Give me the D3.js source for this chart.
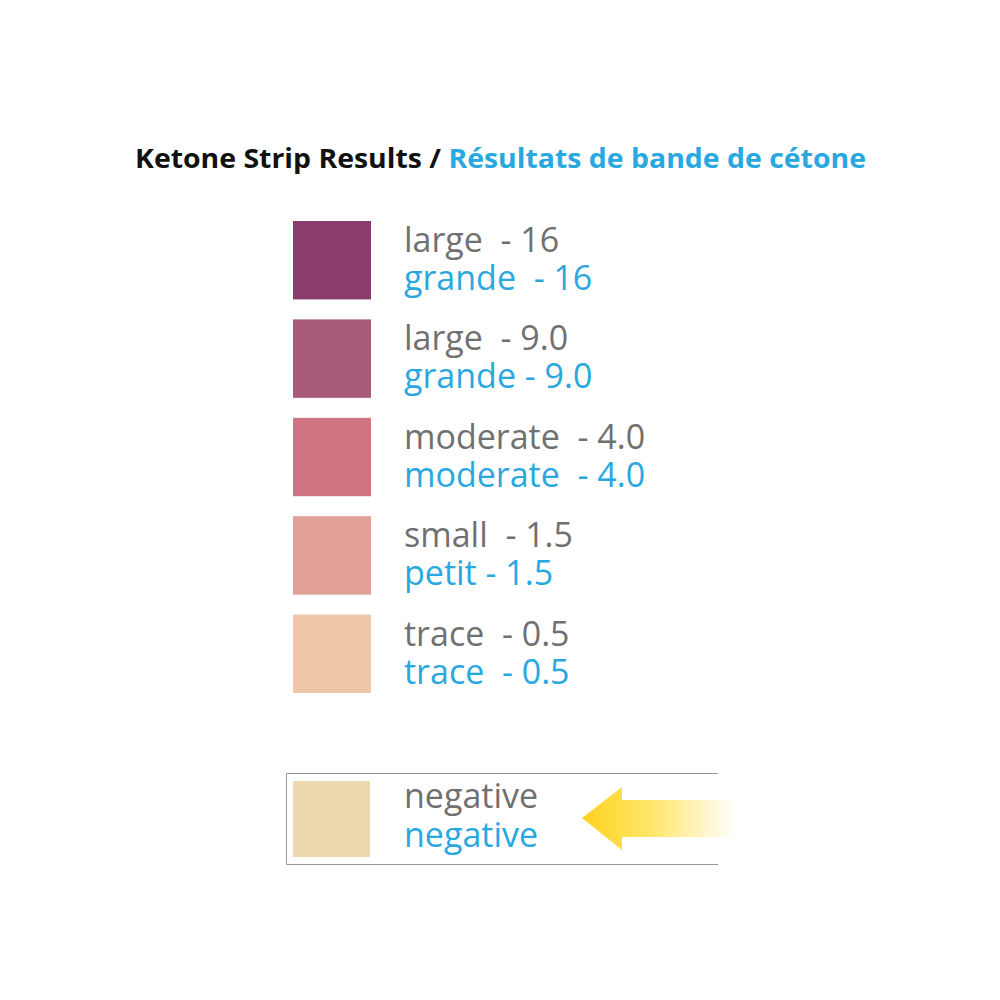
<!DOCTYPE html><html><head><script src="https://cdn.jsdelivr.net/npm/d3@7"></script>
<style>body{margin:0;background:#fff} text{white-space:pre}</style></head><body><svg id="c" width="1000" height="1000"></svg>
<script>
const levels = ["large  - 16","large  - 9.0","moderate  - 4.0","small  - 1.5","trace  - 0.5"];
const levelsFr = ["grande  - 16","grande - 9.0","moderate  - 4.0","petit - 1.5","trace  - 0.5"];
const colors = ["#8A3C6E","#A85A7A","#D07383","#E1A097","#EEC5A7"];
const negColor = "#EDD8AF";
const svg = d3.select("#c");
const font = "'Open Sans', 'Noto Sans', sans-serif";
const y = d3.scaleBand().domain(d3.range(levels.length)).range([221, 713]).paddingInner(0.0).paddingOuter(0);
const step = y.step();
const t = svg.append("text").attr("x",135).attr("y",168).attr("font-family",font).attr("font-weight",700)
  .attr("font-size",26).attr("textLength",731).attr("lengthAdjust","spacingAndGlyphs");
t.append("tspan").attr("fill","#111").text("Ketone Strip Results / ");
t.append("tspan").attr("fill","#29A8E0").text("Résultats de bande de cétone");
const g = svg.selectAll("g.row").data(levels).enter().append("g");
g.append("rect").attr("x",293).attr("y",(d,i)=>y(i)).attr("width",78).attr("height",step-20).attr("fill",(d,i)=>colors[i]);
g.append("text").attr("x",404).attr("y",(d,i)=>y(i)+31).attr("font-family",font).attr("font-size",34).attr("fill","#707070").text(d=>d);
g.append("text").attr("x",404).attr("y",(d,i)=>y(i)+69).attr("font-family",font).attr("font-size",34).attr("fill","#29A8E0").text((d,i)=>levelsFr[i]);
svg.append("path").attr("d","M718,773.5H286.5V864.5H718").attr("fill","none").attr("stroke","#999").attr("stroke-width",1);
svg.append("rect").attr("x",293).attr("y",781).attr("width",77).attr("height",76).attr("fill",negColor);
svg.append("text").attr("x",404).attr("y",808).attr("font-family",font).attr("font-size",34).attr("fill","#707070").text("negative");
svg.append("text").attr("x",404).attr("y",847).attr("font-family",font).attr("font-size",34).attr("fill","#29A8E0").text("negative");
const grad = svg.append("defs").append("linearGradient").attr("id","ag").attr("x1","0").attr("x2","1");
grad.append("stop").attr("offset","0").attr("stop-color","#FFD21F");
grad.append("stop").attr("offset","0.45").attr("stop-color","#FFE66A");
grad.append("stop").attr("offset","1").attr("stop-color","#FFFFFF");
svg.append("path").attr("d","M582,818L622,787V800H736V837H622V850Z").attr("fill","url(#ag)");
</script></body></html>
